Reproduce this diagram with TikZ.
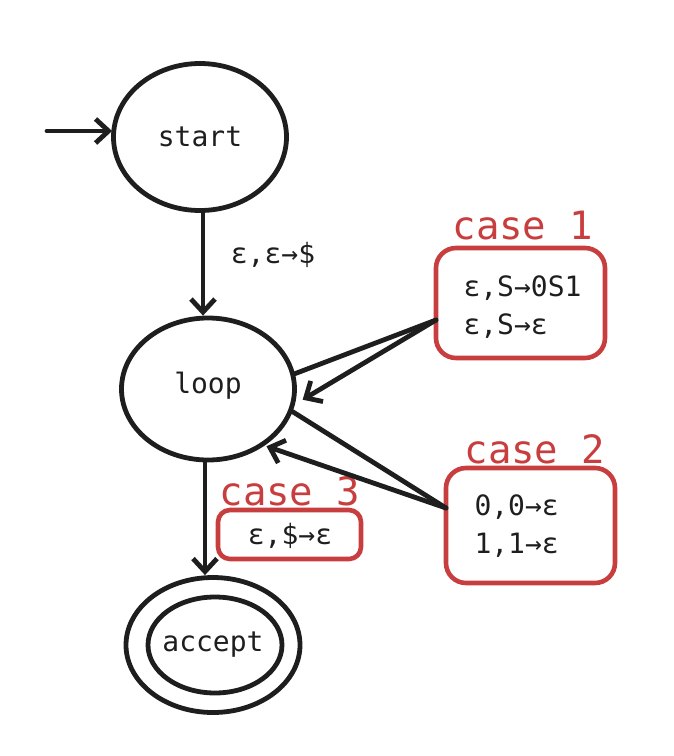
\documentclass[tikz,border=0pt]{standalone}
\usepackage{fontspec}
\setmonofont{DejaVu Sans Mono}
\usetikzlibrary{shapes.geometric,arrows.meta}
\definecolor{casered}{RGB}{200,62,62}
\definecolor{ink}{RGB}{30,30,30}
\begin{document}
\begin{tikzpicture}[x=1pt,y=-1pt,
  state/.style={ellipse,draw=ink,line width=4.8pt,inner sep=0pt},
  lbl/.style={font=\ttfamily\fontsize{28}{38}\selectfont,text=ink},
  casebox/.style={draw=casered,line width=4.6pt,rounded corners=20pt,inner sep=0pt},
  casetitle/.style={font=\ttfamily\fontsize{39}{44}\selectfont,text=casered},
  conn/.style={draw=ink,line width=4.8pt,line cap=round},
  arr/.style={conn,-{Straight Barb[length=13pt,width=24pt,line width=4.8pt]}}]
\useasboundingbox (0,0) rectangle (674,756);
% states
\node[state,minimum width=173pt,minimum height=147pt] (start) at (200,137) {};
\node[lbl] (starttxt) at (200,137) {start};
\node[state,minimum width=173pt,minimum height=142pt] (loop) at (208,389) {};
\node[lbl] (looptxt) at (208,386) {loop};
\node[state,minimum width=174pt,minimum height=135pt] (accept) at (213,645) {};
\node[state,minimum width=134pt,minimum height=96pt] (acceptin) at (215,645) {};
\node[lbl] (accepttxt) at (213,645) {accept};
% case boxes
\node[casebox,minimum width=169pt,minimum height=110pt] (c1) at (520.5,303) {};
\node[lbl,align=left,anchor=west] (c1txt) at (460,307) {ε,S→0S1\\ε,S→ε};
\node[casetitle] (c1title) at (523,226) {case 1};
\node[casebox,minimum width=169pt,minimum height=115pt] (c2) at (530.5,525.5) {};
\node[lbl,align=left,anchor=west] (c2txt) at (471,526) {0,0→ε\\1,1→ε};
\node[casetitle] (c2title) at (535,449) {case 2};
\node[casebox,minimum width=143pt,minimum height=49pt,rounded corners=12pt] (c3) at (289.5,534.5) {};
\node[lbl] (c3txt) at (290,536) {ε,\$→ε};
\node[casetitle] (c3title) at (290,491) {case 3};
% edge label
\node[lbl] (e1) at (273,255) {ε,ε→\$};
% connectors
\coordinate (init) at (47,131);
\coordinate (c1p) at (436,320);
\coordinate (c2p) at (446,508);
\draw[arr] (init) -- ([xshift=1pt]init -| start.west);
\draw[arr] ([xshift=3pt]start.south) -- ([xshift=3pt]start.south |- loop.north);
\draw[arr] ([xshift=-3pt]loop.south) -- ([xshift=-3pt]loop.south |- accept.north);
\draw[conn] (c1p) -- (loop.10);
\draw[arr,shorten >=9pt] (c1p) -- (loop.-10);
\draw[conn] (loop.-15) -- (c2p);
\draw[arr,shorten >=2pt] (c2p) -- (loop.-45);
\end{tikzpicture}
\end{document}
